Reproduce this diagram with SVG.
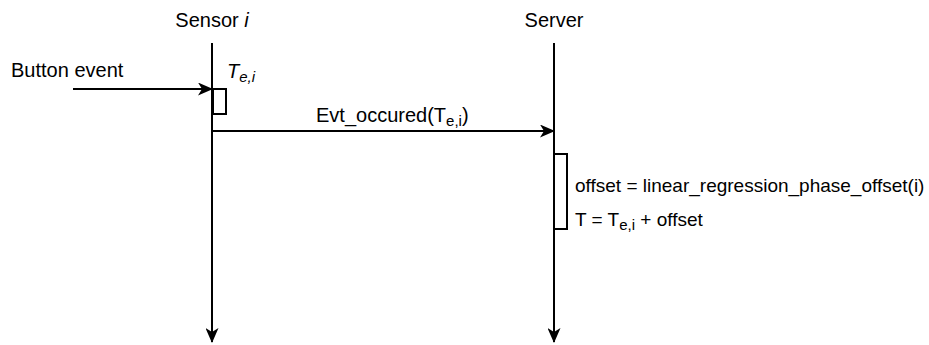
<svg xmlns="http://www.w3.org/2000/svg" width="929" height="345" viewBox="0 0 929 345">
  <defs>
    <marker id="arrow" viewBox="0 0 15 13" refX="14" refY="6.5" markerWidth="15" markerHeight="13" markerUnits="userSpaceOnUse" orient="auto">
      <path d="M0,0 L15,6.5 L0,13 L4,6.5 Z" fill="#000"/>
    </marker>
    <style>
      .line { stroke: #000; stroke-width: 2; fill: none; }
      .box { stroke: #000; stroke-width: 2; fill: #fff; }
      text { font-family: "Liberation Sans", Arial, sans-serif; font-size: 20px; fill: #000; }
      .note { font-size: 19px; }
      .sub { font-size: 15px; }
    </style>
  </defs>
  <rect width="929" height="345" fill="#fff"/>

  <!-- lifelines and messages -->
  <g id="connectors">
    <line class="line" x1="212" y1="43" x2="212" y2="342" marker-end="url(#arrow)"/>
    <line class="line" x1="554" y1="43" x2="554" y2="342" marker-end="url(#arrow)"/>
    <line class="line" x1="73" y1="89" x2="212" y2="89" marker-end="url(#arrow)"/>
    <line class="line" x1="212" y1="131" x2="554" y2="131" marker-end="url(#arrow)"/>
  </g>

  <g id="sensor">
    <text x="212" y="27" text-anchor="middle">Sensor <tspan font-style="italic">i</tspan></text>
    <rect class="box" x="213" y="89" width="13" height="25"/>
  </g>

  <g id="server">
    <text x="554" y="27" text-anchor="middle">Server</text>
    <rect class="box" x="554" y="154" width="13" height="75"/>
  </g>

  <g id="button-event">
    <text x="11" y="77">Button event</text>
  </g>

  <g id="event-time">
    <text x="227" y="78" font-style="italic">T<tspan class="sub" dy="4">e,i</tspan></text>
  </g>

  <g id="evt-label">
    <text x="316" y="122">Evt_occured(T<tspan class="sub" dy="4">e,i</tspan><tspan dy="-4">)</tspan></text>
  </g>

  <g id="server-notes">
    <text class="note" x="575" y="192">offset = linear_regression_phase_offset(i)</text>
    <text class="note" x="575" y="226">T = T<tspan class="sub" dy="4">e,i</tspan><tspan dy="-4"> + offset</tspan></text>
  </g>
</svg>
